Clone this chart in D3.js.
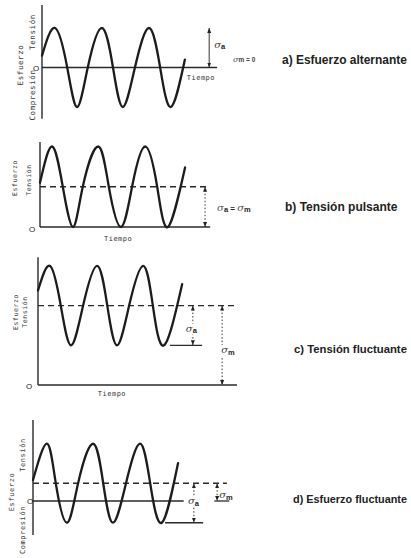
<!DOCTYPE html>
<meta charset="utf-8">
<head>
    <title>Tipos de esfuerzo ciclico</title>
    <style>
        body { margin: 0; background: #fff; }
        svg { display: block; }
        text { fill: #222; font-family: "Liberation Sans", Arial, sans-serif; }
        .small { font-family: "DejaVu Sans Mono", "Liberation Mono", monospace; font-size: 7px; fill: #333; }
        .title { font-weight: bold; font-size: 12px; }
    </style>
</head>
<body>
<svg width="411" height="558"></svg>
<script src="https://d3js.org/d3.v7.min.js"></script>
<script>

    // wave key points
    // time in periods, stress in units of the amplitude
    var timeA = [0, 0.28, 0.54, 0.75, 0.98, 1.28, 1.52, 1.73, 1.99, 2.29, 2.53, 2.76, 3.06];
    var stressA = [0.3, 1, 0, -1, 0, 1, 0, -1, 0, 1, 0, -1, 0.2];

    var timeB = [0, 0.26, 0.49, 0.71, 0.92, 1.25, 1.48, 1.74, 1.98, 2.26, 2.52, 2.75, 3.12];
    var stressB = [1.1, 2, 1, 0, 1, 2, 1, 0, 1, 2, 1, 0, 1.48];

    var timeC = [0, 0.26, 0.49, 0.71, 0.97, 1.27, 1.49, 1.7, 1.96, 2.26, 2.47, 2.71, 3.1];
    var stressC = [2.38, 3, 2, 1, 2, 3, 2, 1, 2, 3, 2, 1, 2.54];

    var timeD = [0, 0.3, 0.49, 0.73, 0.97, 1.29, 1.51, 1.72, 2.0, 2.3, 2.52, 2.77, 3.12];
    var stressD = [0.53, 1.45, 0.45, -0.55, 0.45, 1.45, 0.45, -0.55, 0.45, 1.45, 0.45, -0.55, 0.96];

    var panelTitles = ["a) Esfuerzo alternante", "b) Tensión pulsante", "c) Tensión fluctuante", "d) Esfuerzo fluctuante"];
    var meanStress = [0, 1, 2, 0.45];
    var minStress = [-1, 0, 1, -0.55];

    // layout of each small plot (pixels)
    var layout = [
        {x0: 42, per: 46.7, y0: 67.5, unit: 39.5, yAxis: [-1.3, 1.58], tAxis: 3.75},
        {x0: 40, per: 46.5, y0: 227, unit: 40.25, yAxis: [0, 2.11], tAxis: 3.66},
        {x0: 38, per: 46.5, y0: 385, unit: 39.7, yAxis: [0, 3.22], tAxis: 4.28},
        {x0: 33, per: 46.5, y0: 501, unit: 39.5, yAxis: [-0.86, 2.05], tAxis: 3.24}
    ];
    var waves = [[timeA, stressA], [timeB, stressB], [timeC, stressC], [timeD, stressD]];
    var titlePos = [[282, 64], [285, 211], [294, 353], [293, 503]];

    var svg = d3.select("svg"),
            width = +svg.attr("width");
    svg.append("rect").attr("width", width).attr("height", +svg.attr("height")).attr("fill", "#fff");

    //arrow heads
    svg.append("defs").append("marker")
            .attr("id", "head")
            .attr("viewBox", "0 0 10 10")
            .attr("refX", 10).attr("refY", 5)
            .attr("markerUnits", "userSpaceOnUse")
            .attr("markerWidth", 5).attr("markerHeight", 5)
            .attr("orient", "auto-start-reverse")
            .append("path").attr("d", "M0,1 L10,5 L0,9 z").attr("fill", "#222");

    function hline(g, x1, x2, y, dash) {
        return g.append("line").attr("x1", x1).attr("x2", x2).attr("y1", y).attr("y2", y)
                .attr("stroke", "#2a2a2a").attr("stroke-width", 1.3)
                .attr("stroke-dasharray", dash || null);
    }

    function arrow(g, x, yTop, yBot, dotted) {
        g.append("line").attr("x1", x).attr("x2", x).attr("y1", yTop).attr("y2", yBot)
                .attr("stroke", "#333").attr("stroke-width", 1)
                .attr("stroke-dasharray", dotted ? "1.5,2" : null)
                .attr("marker-start", "url(#head)").attr("marker-end", "url(#head)");
    }

    // sigma with a subscript, optional white patch behind
    function sigma(g, x, y, sub, patch) {
        if (patch) g.append("rect").attr("x", x - 1).attr("y", y - 8).attr("width", 13).attr("height", 11).attr("fill", "#fff");
        var t = g.append("text").attr("x", x).attr("y", y);
        t.append("tspan").text("σ").attr("font-family", "DejaVu Serif").attr("font-style", "italic").attr("font-size", 10).attr("fill", "#444");
        t.append("tspan").text(sub).attr("dy", 1.5).attr("font-size", 7.5).attr("font-weight", "bold");
        return t;
    }

    function vlabel(g, text, x, y, size) {
        g.append("text").attr("class", "small")
                .attr("transform", "translate(" + x + "," + y + ") rotate(-90)")
                .attr("text-anchor", "middle")
                .style("font-size", (size || 7) + "px")
                .style("letter-spacing", "0.6px")
                .text(text);
    }

    layout.forEach(function (L, i) {
        var g = svg.append("g");
        var x = d3.scaleLinear().domain([0, 1]).range([L.x0, L.x0 + L.per]);
        var y = d3.scaleLinear().domain([0, 1]).range([L.y0, L.y0 - L.unit]);

        //axes
        g.append("line").attr("x1", x(0)).attr("x2", x(0)).attr("y1", y(L.yAxis[0])).attr("y2", y(L.yAxis[1]))
                .attr("stroke", "#2a2a2a").attr("stroke-width", 1.4);
        hline(g, x(0), x(L.tAxis), y(0));

        //mean line
        if (i > 0) {
            var meanEnd = [0, 3.57, 4.3, 4.17][i];
            hline(g, x(0), x(meanEnd), y(meanStress[i]), "6,4");
        }

        //the wave
        var pts = d3.zip(waves[i][0], waves[i][1]);
        g.append("path").datum(pts)
                .attr("fill", "none").attr("stroke", "#1c1c1c").attr("stroke-width", 2.3)
                .attr("stroke-linecap", "round")
                .attr("d", d3.line().x(function (d) { return x(d[0]); }).y(function (d) { return y(d[1]); })
                        .curve(d3.curveNatural));

        //title, made a bit smaller if it would run off the right edge
        var title = g.append("text").attr("class", "title").attr("x", titlePos[i][0]).attr("y", titlePos[i][1]).text(panelTitles[i]);
        var room = width - 4 - titlePos[i][0];
        var len = title.node().getComputedTextLength();
        if (len > room) {
            title.style("font-size", (12 * room / len).toFixed(2) + "px");
        }

        if (i === 0) {
            arrow(g, x(3.58), y(1), y(0), false);
            sigma(g, x(3.58) + 5, y(0.6) + 4, "a");
            var t = g.append("text").attr("x", 233).attr("y", 62);
            t.append("tspan").text("σ").attr("font-family", "DejaVu Serif").attr("font-style", "italic").attr("font-size", 8).attr("fill", "#555");
            t.append("tspan").text("m = 0").attr("font-size", 6.5).attr("font-weight", "bold").attr("fill", "#444");
            g.append("text").attr("class", "small").attr("x", x(3.1)).attr("y", y(0) + 12).style("letter-spacing", "0.5px").text("Tiempo");
            g.append("text").attr("x", x(0) - 6).attr("y", y(0) + 3).attr("text-anchor", "middle").attr("font-size", 8).text("O");
            vlabel(g, "Esfuerzo", 23, 65, 7.5);
            vlabel(g, "Tensión", 35, 32, 7.5);
            vlabel(g, "Compresión", 35, 95, 7.5);
        } else if (i === 1) {
            arrow(g, x(3.55), y(1), y(0), true);
            var t2 = g.append("text").attr("x", x(3.55) + 12).attr("y", y(0.4));
            t2.append("tspan").text("σ").attr("font-family", "DejaVu Serif").attr("font-style", "italic").attr("font-size", 10).attr("fill", "#555");
            t2.append("tspan").text("a").attr("dy", 1.5).attr("font-size", 7.5).attr("font-weight", "bold");
            t2.append("tspan").text(" = ").attr("dy", -1.5).attr("font-size", 8).attr("font-weight", "bold");
            t2.append("tspan").text("σ").attr("font-family", "DejaVu Serif").attr("font-style", "italic").attr("font-size", 10).attr("fill", "#555");
            t2.append("tspan").text("m").attr("dy", 1.5).attr("font-size", 7.5).attr("font-weight", "bold");
            g.append("text").attr("class", "small").attr("x", x(1.68)).attr("y", y(0) + 14).attr("text-anchor", "middle").style("letter-spacing", "0.5px").text("Tiempo");
            g.append("text").attr("x", x(0) - 8).attr("y", y(0) + 5).attr("text-anchor", "middle").attr("font-size", 8).text("O");
            vlabel(g, "Esfuerzo", 17, 178, 6.5);
            vlabel(g, "Tensión", 31, 180, 6.5);
        } else if (i === 2) {
            hline(g, x(2.84), x(3.53), y(minStress[i]));
            arrow(g, x(3.33), y(meanStress[i]), y(minStress[i]), true);
            arrow(g, x(3.96), y(meanStress[i]), y(0), true);
            sigma(g, x(3.33) - 7, y(1.42) + 3, "a", true);
            sigma(g, x(3.96) - 1, y(0.88) + 3, "m", true);
            g.append("text").attr("class", "small").attr("x", x(1.59)).attr("y", y(0) + 11).attr("text-anchor", "middle").style("letter-spacing", "0.5px").text("Tiempo");
            g.append("text").attr("x", x(0) - 9).attr("y", y(0) + 4).attr("text-anchor", "middle").attr("font-size", 8).text("O");
            vlabel(g, "Esfuerzo", 18, 312, 6.5);
            vlabel(g, "Tensión", 27, 312, 6.5);
        } else {
            hline(g, x(3.9), x(4.22), y(0));
            hline(g, x(2.84), x(3.66), y(minStress[i]));
            arrow(g, x(3.46), y(meanStress[i]), y(minStress[i]), true);
            arrow(g, x(3.96), y(meanStress[i]), y(0), true);
            sigma(g, x(3.46) - 6, y(0) + 3, "a", true);
            sigma(g, x(3.96) + 2, y(0.15) + 3, "m");
            g.append("text").attr("x", x(0) - 3).attr("y", y(0) + 3).attr("text-anchor", "middle").attr("font-size", 8).text("O");
            vlabel(g, "Tensión", 25, 455, 7);
            vlabel(g, "Esfuerzo", 14, 492, 7);
            vlabel(g, "Compresión", 25, 530, 7);
        }
    });
</script>
</body>
